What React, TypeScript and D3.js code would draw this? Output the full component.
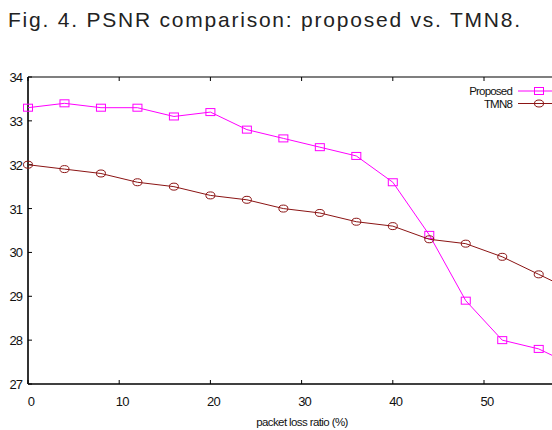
import { useRef, useEffect } from 'react';
import * as d3 from 'd3';

// packet loss ratio (%) sampled every 4%
const lossRatio = [0, 4, 8, 12, 16, 20, 24, 28, 32, 36, 40, 44, 48, 52, 56, 60];
const proposed = [33.3, 33.4, 33.3, 33.3, 33.1, 33.2, 32.8, 32.6, 32.4, 32.2, 31.6, 30.4, 28.9, 28.0, 27.8, 27.4];
const tmn8 = [32.0, 31.9, 31.8, 31.6, 31.5, 31.3, 31.2, 31.0, 30.9, 30.7, 30.6, 30.3, 30.2, 29.9, 29.5, 29.1];
const xTicks = [0, 10, 20, 30, 40, 50];
const yTicks = [27, 28, 29, 30, 31, 32, 33, 34];
const seriesNames = ['Proposed', 'TMN8'];
const seriesColors = ['#ff00ff', '#8b1414'];

export default function App() {
  const svgRef = useRef<SVGSVGElement>(null);
  const width = 552, height = 430;
  const margin = { top: 77, left: 28, bottom: 384 };

  useEffect(() => {
    const svg = d3.select(svgRef.current);
    svg.selectAll('*').remove();

    // x range runs past the picture's right edge (the figure is cropped)
    const x = d3.scaleLinear().domain([0, 60]).range([margin.left, margin.left + 6 * 91.2]);
    const y = d3.scaleLinear().domain([27, 34]).range([margin.bottom, margin.top]);
    const font = '"Liberation Sans", Arial, sans-serif';

    // title
    svg.append('text')
      .attr('x', 8).attr('y', 27)
      .attr('font-family', '"Liberation Sans Narrow", "Liberation Sans", Arial, sans-serif')
      .attr('font-size', 21)
      .attr('fill', '#222')
      .attr('textLength', 512)
      .attr('lengthAdjust', 'spacing')
      .text('Fig. 4. PSNR comparison: proposed vs. TMN8.');

    const g = svg.append('g');

    // frame: top, bottom, left
    g.append('line').attr('x1', margin.left).attr('x2', width).attr('y1', y(34)).attr('y2', y(34))
      .attr('stroke', '#000').attr('stroke-width', 1.2);
    g.append('line').attr('x1', margin.left).attr('x2', width).attr('y1', y(27)).attr('y2', y(27))
      .attr('stroke', '#000').attr('stroke-width', 1.5);
    g.append('line').attr('x1', margin.left).attr('x2', margin.left).attr('y1', y(34)).attr('y2', y(27))
      .attr('stroke', '#333').attr('stroke-width', 2);

    // x ticks (inward, top and bottom)
    xTicks.forEach(t => {
      g.append('line').attr('x1', x(t)).attr('x2', x(t)).attr('y1', y(27)).attr('y2', y(27) - 4)
        .attr('stroke', '#000');
      g.append('line').attr('x1', x(t)).attr('x2', x(t)).attr('y1', y(34)).attr('y2', y(34) + 4)
        .attr('stroke', '#000');
      g.append('text').attr('x', x(t) + 3).attr('y', y(27) + 22)
        .attr('text-anchor', 'middle').attr('font-family', font).attr('font-size', 13)
        .attr('letter-spacing', -0.8).attr('fill', '#111')
        .text(t);
    });

    // y ticks
    yTicks.forEach(t => {
      g.append('line').attr('x1', margin.left).attr('x2', margin.left + 4).attr('y1', y(t)).attr('y2', y(t))
        .attr('stroke', '#000');
      g.append('text').attr('x', 22).attr('y', y(t) + 5)
        .attr('text-anchor', 'end').attr('font-family', font).attr('font-size', 13)
        .attr('letter-spacing', -1).attr('fill', '#111')
        .text(t);
    });

    g.append('text').attr('x', 302).attr('y', 426)
      .attr('text-anchor', 'middle').attr('font-family', font).attr('font-size', 11.5)
      .attr('letter-spacing', -0.6).attr('fill', '#111')
      .text('packet loss ratio (%)');

    const line = d3.line<[number, number]>().x(d => x(d[0])).y(d => y(d[1]));
    const allSeries = [proposed, tmn8];

    allSeries.forEach((vals, i) => {
      const pts: [number, number][] = lossRatio.map((r, j) => [r, vals[j]]);
      g.append('path').datum(pts).attr('d', line)
        .attr('fill', 'none').attr('stroke', seriesColors[i]).attr('stroke-width', 1);
      pts.forEach(p => {
        if (i === 0) {
          g.append('rect').attr('x', x(p[0]) - 4.5).attr('y', y(p[1]) - 3.5)
            .attr('width', 9).attr('height', 7)
            .attr('fill', 'none').attr('stroke', seriesColors[i]).attr('stroke-width', 1);
        } else {
          g.append('ellipse').attr('cx', x(p[0])).attr('cy', y(p[1]))
            .attr('rx', 4.5).attr('ry', 3.5)
            .attr('fill', 'none').attr('stroke', seriesColors[i]).attr('stroke-width', 1);
        }
      });
    });

    // legend
    seriesNames.forEach((name, i) => {
      const ly = 91 + i * 12.5;
      g.append('text').attr('x', 512).attr('y', ly + 4)
        .attr('text-anchor', 'end').attr('font-family', font).attr('font-size', 11.5)
        .attr('letter-spacing', -0.8).attr('fill', '#111')
        .text(name);
      g.append('line').attr('x1', 518).attr('x2', width).attr('y1', ly).attr('y2', ly)
        .attr('stroke', seriesColors[i]).attr('stroke-width', 1);
      if (i === 0) {
        g.append('rect').attr('x', 539 - 4.5).attr('y', ly - 3.5).attr('width', 9).attr('height', 7)
          .attr('fill', 'none').attr('stroke', seriesColors[i]);
      } else {
        g.append('ellipse').attr('cx', 539).attr('cy', ly).attr('rx', 4.5).attr('ry', 3.5)
          .attr('fill', 'none').attr('stroke', seriesColors[i]);
      }
    });
  }, []);

  return (
    <svg ref={svgRef} width={width} height={height}
      style={{ position: 'absolute', left: 0, top: 0, background: '#fff' }} />
  );
}
